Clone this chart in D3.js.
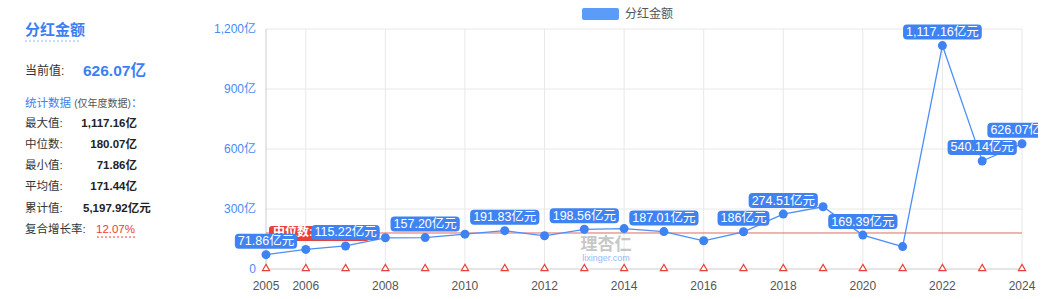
<!DOCTYPE html>
<html>
<head>
<meta charset="utf-8">
<script src="https://cdn.jsdelivr.net/npm/d3@7/dist/d3.min.js"></script>
<style>
  body { margin: 0; background: #fff; }
  svg { font-family: "Liberation Sans", "Noto Sans CJK SC", sans-serif; }
</style>
</head>
<body>
<div id="graphic"></div>
<script>
// data
var years = [2005,2006,2007,2008,2009,2010,2011,2012,2013,2014,2015,2016,2017,2018,2019,2020,2021,2022,2023,2024];
var values = [71.86,98,115.22,156,157.20,174.14,191.83,166,198.56,202,187.01,141,186,274.51,311,169.39,112,1117.16,540.14,626.07];
var labelYears = [2005,2007,2009,2011,2013,2015,2017,2018,2020,2022,2023,2024];
var xTicks = [2005,2006,2008,2010,2012,2014,2016,2018,2020,2022,2024];
var yTicks = [0,300,600,900,1200];
var median = 180.07;

var statNames = ["最大值:", "中位数:", "最小值:", "平均值:", "累计值:", "复合增长率:"];
var statValues = ["1,117.16亿", "180.07亿", "71.86亿", "171.44亿", "5,197.92亿元", "12.07%"];

var width = 1056, height = 299;
var blue = "#3f83f3", lineBlue = "#4d8ff7", red = "#e8403a";

var svg = d3.select("#graphic").append("svg")
	.attr("width", width)
	.attr("height", height);

var x = d3.scaleLinear().domain([2005, 2024]).range([266, 1022]);
var y = d3.scaleLinear().domain([0, 1200]).range([269, 29]);

var num = d3.format(",.2f");
function fmt(v) {
	return Number.isInteger(v) ? d3.format(",")(v) : num(v);
}

// ---- left panel
var panel = svg.append("g");
panel.append("text").attr("x", 25).attr("y", 35)
	.attr("fill", "#3b7ff5").style("font-size", "15px").style("font-weight", "bold")
	.text("分红金额");
panel.append("line").attr("x1", 25).attr("x2", 80).attr("y1", 41).attr("y2", 41)
	.attr("stroke", "#8fb6f8").attr("stroke-dasharray", "2,2");

panel.append("text").attr("x", 25).attr("y", 75)
	.attr("fill", "#333").style("font-size", "12px").text("当前值:");
panel.append("text").attr("x", 83).attr("y", 76)
	.attr("fill", "#3b7ff5").style("font-size", "15.5px").style("font-weight", "bold").text("626.07亿");

var st = panel.append("text").attr("x", 25).attr("y", 107).style("font-size", "11.5px");
st.append("tspan").attr("fill", "#3b7ff5").text("统计数据 ");
st.append("tspan").attr("fill", "#555").style("font-size", "10px").text("(仅年度数据)");
st.append("tspan").attr("fill", "#3b7ff5").text("：");

var rowY = [127, 148, 169, 190, 212, 233];
statNames.forEach(function(n, i) {
	panel.append("text").attr("x", 25).attr("y", rowY[i])
		.attr("fill", "#333").style("font-size", "11.5px").text(n);
	var t = panel.append("text").attr("y", rowY[i])
		.style("font-size", "11.5px").style("font-weight", "bold")
		.text(statValues[i]);
	if (i == 4) {
		t.attr("x", 83).attr("fill", "#222");
	} else if (i == 5) {
		t.attr("x", 135).attr("text-anchor", "end").attr("fill", red).style("font-weight", "normal");
		panel.append("line").attr("x1", 97).attr("x2", 135).attr("y1", rowY[i] + 4).attr("y2", rowY[i] + 4)
			.attr("stroke", red).attr("stroke-dasharray", "2,2");
	} else {
		t.attr("x", 137).attr("text-anchor", "end").attr("fill", "#222");
	}
});

// ---- legend
svg.append("rect").attr("x", 582).attr("y", 8).attr("width", 37).attr("height", 12)
	.attr("rx", 2).attr("fill", "#5b9cf8");
svg.append("text").attr("x", 625).attr("y", 18).attr("fill", "#555")
	.style("font-size", "12px").text("分红金额");

// ---- grid
var grid = svg.append("g");
grid.selectAll(".hg").data(yTicks).enter().append("line")
	.attr("x1", 266).attr("x2", 1022)
	.attr("y1", function(d) { return y(d); }).attr("y2", function(d) { return y(d); })
	.attr("stroke", function(d) { return d == 0 ? "#ccc" : "#e8e8e8"; });
grid.selectAll(".vg").data(xTicks).enter().append("line")
	.attr("x1", function(d) { return x(d); }).attr("x2", function(d) { return x(d); })
	.attr("y1", y(1200)).attr("y2", y(0))
	.attr("stroke", function(d) { return d == 2005 ? "#ccc" : "#e8e8e8"; });

grid.selectAll(".yl").data(yTicks).enter().append("text")
	.attr("x", 256).attr("y", function(d) { return y(d) + 4; })
	.attr("text-anchor", "end").attr("fill", "#4a8af4").style("font-size", "12px")
	.text(function(d) { return d == 0 ? "0" : d3.format(",")(d) + "亿"; });
grid.selectAll(".xl").data(xTicks).enter().append("text")
	.attr("x", function(d) { return x(d); }).attr("y", 290)
	.attr("text-anchor", "middle").attr("fill", "#555").style("font-size", "12px")
	.text(function(d) { return d; });

// ---- median line
svg.append("line").attr("x1", x(2005)).attr("x2", x(2024))
	.attr("y1", y(median)).attr("y2", y(median))
	.attr("stroke", "#e06a66").attr("stroke-width", 1);

// ---- triangles on axis
svg.selectAll(".tri").data(years).enter().append("path")
	.attr("d", d3.symbol().type(d3.symbolTriangle).size(22))
	.attr("transform", function(d) { return "translate(" + x(d) + "," + (y(0) - 0.5) + ")"; })
	.attr("fill", "#fff").attr("stroke", red).attr("stroke-width", 1.2);

// ---- watermark
var wm = svg.append("g").attr("opacity", 0.55);
wm.append("text").attr("x", 606).attr("y", 250).attr("text-anchor", "middle")
	.attr("fill", "#9a9a9a").style("font-size", "17px").style("font-weight", "bold").text("理杏仁");
wm.append("text").attr("x", 606).attr("y", 261).attr("text-anchor", "middle")
	.attr("fill", "#3b7ff5").style("font-size", "9px").text("lixinger.com");

// ---- line + points
var pts = years.map(function(yr, i) { return {year: yr, value: values[i]}; });
svg.append("path").datum(pts)
	.attr("d", d3.line().x(function(d) { return x(d.year); }).y(function(d) { return y(d.value); }))
	.attr("fill", "none").attr("stroke", lineBlue).attr("stroke-width", 1.3);
svg.selectAll(".pt").data(pts).enter().append("circle")
	.attr("cx", function(d) { return x(d.year); }).attr("cy", function(d) { return y(d.value); })
	.attr("r", 4.5).attr("fill", blue);

// ---- median label
var ml = svg.append("g");
ml.append("rect").attr("x", 269).attr("y", y(median) - 7).attr("width", 100).attr("height", 15)
	.attr("rx", 3).attr("fill", red);
ml.append("text").attr("x", 273).attr("y", y(median) + 3).attr("fill", "#fff")
	.style("font-size", "12px").style("font-weight", "bold").text("中位数: " + fmt(median) + "亿元");

// ---- data labels
svg.append("clipPath").attr("id", "clip").append("rect")
	.attr("x", 0).attr("y", 0).attr("width", 1038).attr("height", height);
var labels = svg.append("g").attr("clip-path", "url(#clip)")
	.selectAll(".lb").data(pts.filter(function(d) { return labelYears.indexOf(d.year) >= 0; }))
	.enter().append("g")
	.attr("transform", function(d) { return "translate(" + x(d.year) + "," + (y(d.value) - 6) + ")"; });
labels.append("text")
	.attr("text-anchor", "middle").attr("y", -3.5)
	.attr("fill", "#fff").style("font-size", "12.5px")
	.text(function(d) { return fmt(d.value) + "亿元"; })
	.each(function() {
		var b = this.getBBox();
		d3.select(this.parentNode).insert("rect", "text")
			.attr("x", b.x - 3).attr("y", -15).attr("width", b.width + 6).attr("height", 15)
			.attr("rx", 4).attr("fill", blue);
	});
</script>
</body>
</html>
